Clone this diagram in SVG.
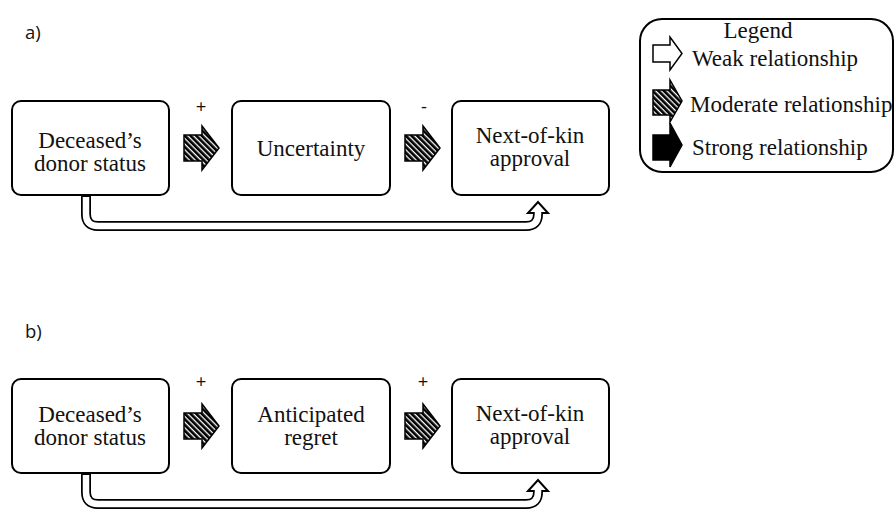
<svg xmlns="http://www.w3.org/2000/svg" width="895" height="509" viewBox="0 0 895 509">
<defs>
<pattern id="hatch" width="4" height="4" patternUnits="userSpaceOnUse" patternTransform="rotate(45)">
<rect width="4" height="4" fill="#000"/>
<rect y="0" width="4" height="1.3" fill="#fff"/>
</pattern>
<path id="fat" d="M0,-13 H18 V-22 L35,0 L18,22 V13 H0 Z"/>
</defs>
<style>
.box{fill:#fff;stroke:#000;stroke-width:2}
.t{font-family:"Liberation Serif","Times New Roman",serif;font-size:23px;fill:#111;text-anchor:middle}
.lg{font-family:"Liberation Serif","Times New Roman",serif;font-size:23px;fill:#111}
.s{font-family:"Open Sans","Liberation Sans",sans-serif;font-size:18.5px;fill:#111}
.mod{fill:url(#hatch);stroke:#000;stroke-width:1.5}
.tubeo{fill:none;stroke:#000;stroke-width:10}
.tubei{fill:none;stroke:#fff;stroke-width:6.5}
.head{fill:#fff;stroke:#000;stroke-width:2;stroke-linejoin:miter}
</style>
<text class="s" x="25" y="39">a)</text>
<text class="s" x="25" y="338">b)</text>
<g id="a-donor"><rect class="box" x="12" y="101" width="157" height="94" rx="9"/><text class="t" x="90" y="148">Deceased’s</text><text class="t" x="90" y="171">donor status</text></g>
<g id="a-uncertainty"><rect class="box" x="232" y="101" width="158" height="94" rx="9"/><text class="t" x="311" y="156">Uncertainty</text></g>
<g id="a-approval"><rect class="box" x="452" y="101" width="157" height="94" rx="9"/><text class="t" x="530" y="143">Next-of-kin</text><text class="t" x="530" y="166">approval</text></g>
<g id="b-donor"><rect class="box" x="12" y="379" width="157" height="94" rx="9"/><text class="t" x="90" y="422">Deceased’s</text><text class="t" x="90" y="445">donor status</text></g>
<g id="b-regret"><rect class="box" x="232" y="379" width="158" height="94" rx="9"/><text class="t" x="311" y="422">Anticipated</text><text class="t" x="311" y="445">regret</text></g>
<g id="b-approval"><rect class="box" x="452" y="379" width="157" height="94" rx="9"/><text class="t" x="530" y="421">Next-of-kin</text><text class="t" x="530" y="444">approval</text></g>
<g id="connectors">
<use href="#fat" class="mod" x="184" y="148"/>
<use href="#fat" class="mod" x="405" y="148"/>
<use href="#fat" class="mod" x="184" y="426"/>
<use href="#fat" class="mod" x="405" y="426"/>
<text class="s" x="201" y="113" text-anchor="middle">+</text>
<text class="s" x="424" y="113" text-anchor="middle">-</text>
<text class="s" x="201" y="388" text-anchor="middle">+</text>
<text class="s" x="423" y="388" text-anchor="middle">+</text>
<path class="tubeo" d="M86,196 V214 Q86,226 98,226 H526 Q538,226 538,214 V211"/>
<polygon class="head" points="533,213 528,213 538,202 548,213 543,213"/>
<path class="tubei" d="M86,197 V214 Q86,226 98,226 H526 Q538,226 538,214 V211"/>
<path class="tubeo" d="M86,474 V492 Q86,504 98,504 H526 Q538,504 538,492 V489"/>
<polygon class="head" points="533,491 528,491 538,480 548,491 543,491"/>
<path class="tubei" d="M86,475 V492 Q86,504 98,504 H526 Q538,504 538,492 V489"/>
</g>
<g id="legend">
<rect x="640" y="19" width="253" height="153" rx="22" fill="#fff" stroke="#000" stroke-width="2"/>
<text class="lg" x="758" y="38" text-anchor="middle">Legend</text>
<path d="M653,45 H670 V37 L682,53.5 L670,70 V62 H653 Z" fill="#fff" stroke="#000" stroke-width="1.5"/>
<text class="lg" x="692" y="66">Weak relationship</text>
<path d="M653,90 H670 V80 L682,101 L670,122 V115 H653 Z" class="mod"/>
<text class="lg" x="690" y="112">Moderate relationship</text>
<path d="M653,135 H670 V123 L682,145 L670,167 V160 H653 Z" fill="#000" stroke="#000" stroke-width="1.5"/>
<text class="lg" x="692" y="155">Strong relationship</text>
</g>
</svg>
